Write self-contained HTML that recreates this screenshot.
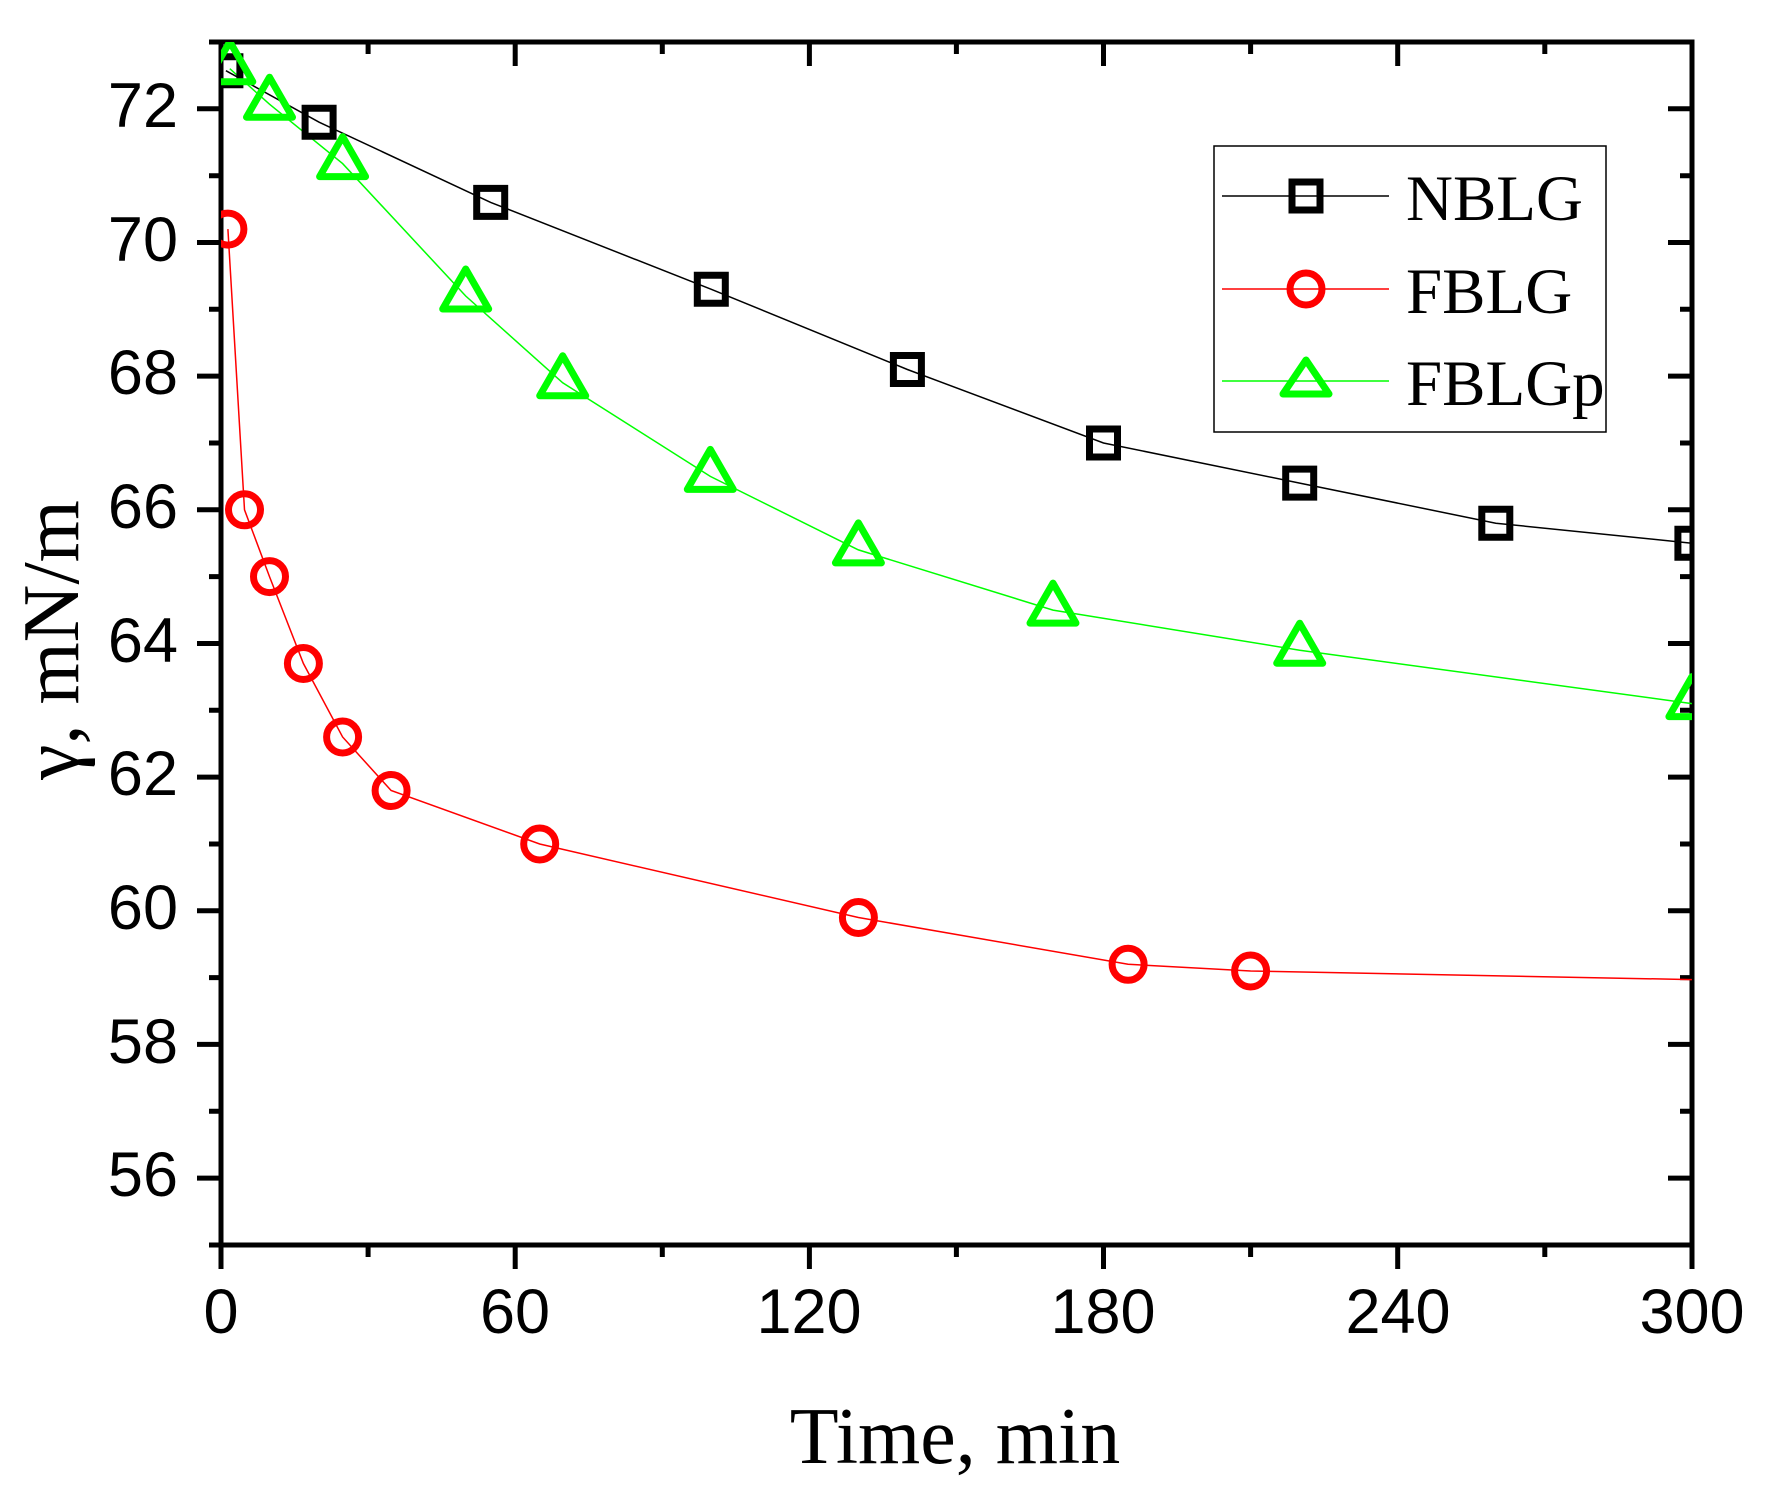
<!DOCTYPE html>
<html><head><meta charset="utf-8"><style>html,body{margin:0;padding:0;background:#fff}svg{display:block}</style></head>
<body>
<svg width="1765" height="1500" viewBox="0 0 1765 1500" xmlns="http://www.w3.org/2000/svg">
<defs><clipPath id="c"><rect x="221" y="42" width="1471" height="1203"/></clipPath>
<path id="sq" d="M-14,-14H14V14H-14Z" fill="none" stroke="#000" stroke-width="7"/>
<circle id="ci" r="16" fill="none" stroke="#ff0000" stroke-width="7"/>
<path id="tr" d="M0,-27L23,13H-23Z" fill="none" stroke="#00ff00" stroke-width="7" stroke-linejoin="round"/>
</defs>
<g stroke="#000" stroke-width="5" fill="none">
<rect x="221" y="42" width="1471" height="1203"/>
</g>
<g stroke="#000" stroke-width="5">
<path d="M221,1245V1269M515.2,1245V1269M809.4,1245V1269M1103.5,1245V1269M1397.7,1245V1269M1692,1245V1269"/>
<path d="M368.1,1245V1257M662.3,1245V1257M956.4,1245V1257M1250.6,1245V1257M1544.8,1245V1257"/>
<path d="M515.2,42V66M809.4,42V66M1103.5,42V66M1397.7,42V66"/>
<path d="M368.1,42V54M662.3,42V54M956.4,42V54M1250.6,42V54M1544.8,42V54"/>
<path d="M197,108.8H221M197,242.5H221M197,376.1H221M197,509.8H221M197,643.5H221M197,777.1H221M197,910.8H221M197,1044.4H221M197,1178.1H221"/>
<path d="M209,42H221M209,175.7H221M209,309.3H221M209,443H221M209,576.6H221M209,710.3H221M209,844H221M209,977.6H221M209,1111.3H221M209,1245H221"/>
<path d="M1668,108.8H1692M1668,242.5H1692M1668,376.1H1692M1668,509.8H1692M1668,643.5H1692M1668,777.1H1692M1668,910.8H1692M1668,1044.4H1692M1668,1178.1H1692"/>
<path d="M1680,175.7H1692M1680,309.3H1692M1680,443H1692M1680,576.6H1692M1680,710.3H1692M1680,844H1692M1680,977.6H1692M1680,1111.3H1692"/>
</g>
<g font-family="Liberation Sans, sans-serif" font-size="63" fill="#000" text-anchor="end">
<text x="178" y="127">72</text><text x="178" y="261">70</text><text x="178" y="394">68</text><text x="178" y="528">66</text><text x="178" y="662">64</text><text x="178" y="795">62</text><text x="178" y="929">60</text><text x="178" y="1063">58</text><text x="178" y="1196">56</text>
</g>
<g font-family="Liberation Sans, sans-serif" font-size="63" fill="#000" text-anchor="middle">
<text x="221" y="1333">0</text><text x="515" y="1333">60</text><text x="809" y="1333">120</text><text x="1103" y="1333">180</text><text x="1398" y="1333">240</text><text x="1692" y="1333">300</text>
</g>
<text x="955" y="1463" font-family="Liberation Serif, serif" font-size="80" text-anchor="middle">Time, min</text>
<text transform="translate(78,640) rotate(-90)" font-family="Liberation Serif, serif" font-size="80" text-anchor="middle">γ, mN/m</text>
<g clip-path="url(#c)" fill="none">
<polyline stroke="#000" stroke-width="1.5" points="225.9,70.7 319.1,122.2 490.7,202.4 711.3,289.3 907.4,369.5 1103.5,443 1299.7,483.1 1495.8,523.2 1691.9,543.2"/>
<polyline stroke="#ff0000" stroke-width="1.5" points="227.9,229.1 244.5,509.8 269.5,576.6 303.4,663.5 342.6,737 391.1,790.5 539.7,844 858.4,917.5 1128.1,964.3 1250.6,971 1691.9,979.6"/>
<polyline stroke="#00ff00" stroke-width="1.5" points="229.8,68.7 269.5,104.2 342.6,163.6 465.7,296 562.7,382.8 710.3,476.4 858.4,549.9 1053,610.1 1299.7,650.2 1691.9,703.6"/>
<use href="#sq" x="225.9" y="70.7"/><use href="#sq" x="319.1" y="122.2"/><use href="#sq" x="490.7" y="202.4"/><use href="#sq" x="711.3" y="289.3"/><use href="#sq" x="907.4" y="369.5"/><use href="#sq" x="1103.5" y="443"/><use href="#sq" x="1299.7" y="483.1"/><use href="#sq" x="1495.8" y="523.2"/><use href="#sq" x="1691.9" y="543.2"/>
<use href="#ci" x="227.9" y="229.1"/><use href="#ci" x="244.5" y="509.8"/><use href="#ci" x="269.5" y="576.6"/><use href="#ci" x="303.4" y="663.5"/><use href="#ci" x="342.6" y="737"/><use href="#ci" x="391.1" y="790.5"/><use href="#ci" x="539.7" y="844"/><use href="#ci" x="858.4" y="917.5"/><use href="#ci" x="1128.1" y="964.3"/><use href="#ci" x="1250.6" y="971"/>
<use href="#tr" x="229.8" y="68.7"/><use href="#tr" x="269.5" y="104.2"/><use href="#tr" x="342.6" y="163.6"/><use href="#tr" x="465.7" y="296"/><use href="#tr" x="562.7" y="382.8"/><use href="#tr" x="710.3" y="476.4"/><use href="#tr" x="858.4" y="549.9"/><use href="#tr" x="1053" y="610.1"/><use href="#tr" x="1299.7" y="650.2"/><use href="#tr" x="1691.9" y="703.6"/>
</g>
<rect x="1214" y="146" width="392" height="286" fill="#fff" stroke="#000" stroke-width="1.5"/>
<line x1="1222" y1="196" x2="1389" y2="196" stroke="#000" stroke-width="1.5"/>
<line x1="1222" y1="289" x2="1389" y2="289" stroke="#ff0000" stroke-width="1.5"/>
<line x1="1222" y1="381" x2="1389" y2="381" stroke="#00ff00" stroke-width="1.5"/>
<path d="M1292,182H1320V210H1292Z" fill="none" stroke="#000" stroke-width="7"/>
<circle cx="1306" cy="289" r="16" fill="none" stroke="#ff0000" stroke-width="7"/>
<path d="M1306,360L1329,394H1283Z" fill="none" stroke="#00ff00" stroke-width="7" stroke-linejoin="round"/>
<g font-family="Liberation Serif, serif" font-size="65" fill="#000">
<text x="1406" y="220">NBLG</text><text x="1406" y="313">FBLG</text><text x="1406" y="405">FBLGp</text>
</g>
</svg>
</body></html>
